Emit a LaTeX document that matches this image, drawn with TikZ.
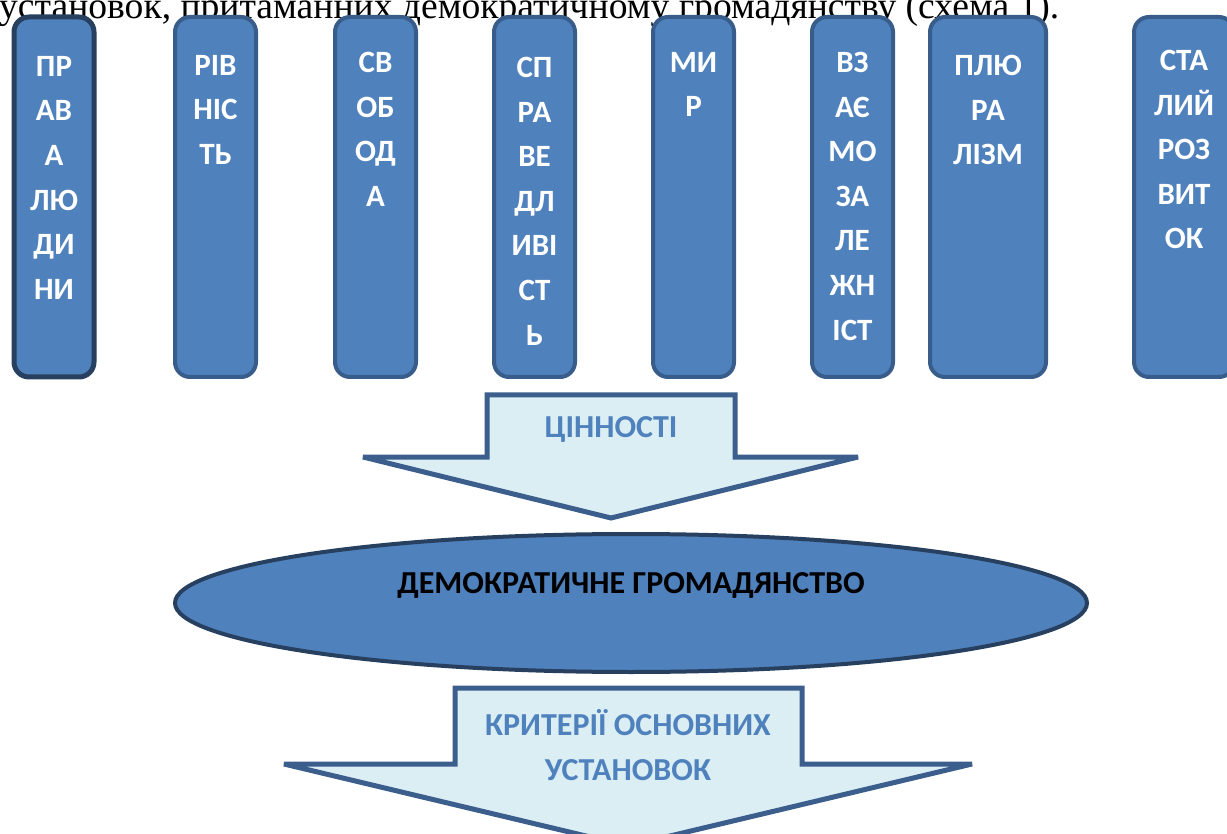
\documentclass[tikz,border=0pt]{standalone}
\usepackage{fontspec}
\usetikzlibrary{shapes.geometric}
\setmainfont{Liberation Serif}
\newfontfamily\calfont{Carlito}
\definecolor{boxfill}{HTML}{4F81BD}
\definecolor{boxline}{HTML}{385D8A}
\definecolor{darkline}{HTML}{27405F}
\definecolor{arrowfill}{HTML}{DBEEF4}
\definecolor{arrowline}{HTML}{3B5E8C}
\begin{document}
\begin{tikzpicture}[x=1pt,y=-1pt,
  vbox/.style={draw=boxline, line width=4pt, fill=boxfill, rounded corners=15pt},
  vtext/.style={anchor=north, inner sep=0pt, align=center, text=white,
    font=\calfont\bfseries\fontsize{31}{44.6}\selectfont},
  arrowshape/.style={draw=arrowline, fill=arrowfill, line width=5pt, line join=miter, miter limit=2},
  arrowtext/.style={inner sep=0pt, align=center, text=boxfill,
    font=\calfont\bfseries\fontsize{32}{45}\selectfont}]
\useasboundingbox (0,0) rectangle (1227,834);
\clip (0,0) rectangle (1227,834);
% title text (cut at top)
\node[anchor=base west, inner sep=0pt, font=\fontsize{37.6}{40}\selectfont] (title) at (-1,19)
  {установок, притаманних демократичному громадянству (схема 1).};
% value boxes
\draw[vbox, draw=darkline, line width=5pt] (14,17) rectangle (94,377);
\coordinate (b1) at (54,17);
\draw[vbox] (175,17) rectangle (256,377); \coordinate (b2) at (215.5,17);
\draw[vbox] (335,17) rectangle (416,377); \coordinate (b3) at (375.5,17);
\draw[vbox] (494,17) rectangle (575,377); \coordinate (b4) at (534.5,17);
\draw[vbox] (653,17) rectangle (734,377); \coordinate (b5) at (693.5,17);
\draw[vbox] (812,17) rectangle (893,377); \coordinate (b6) at (852.5,17);
\draw[vbox] (930,17) rectangle (1046,377); \coordinate (b7) at (988,17);
\draw[vbox] (1134,17) rectangle (1234,377); \coordinate (b8) at (1184,17);
\node[vtext] (t1) at ([yshift=-39]b1) {ПР\\АВ\\А\\ЛЮ\\ДИ\\НИ};
\node[vtext] (t2) at ([yshift=-38]b2) {РІВ\\НІС\\ТЬ};
\node[vtext] (t3) at ([yshift=-35]b3) {СВ\\ОБ\\ОД\\А};
\node[vtext] (t4) at ([yshift=-40]b4) {СП\\РА\\ВЕ\\ДЛ\\ИВІ\\СТ\\Ь};
\node[vtext] (t5) at ([yshift=-35]b5) {МИ\\Р};
\node[vtext] (t6) at ([yshift=-35]b6) {ВЗ\\АЄ\\МО\\ЗА\\ЛЕ\\ЖН\\ІСТ};
\node[vtext] (t7) at ([yshift=-38]b7) {ПЛЮ\\РА\\ЛІЗМ};
\node[vtext] (t8) at ([yshift=-33]b8) {СТА\\ЛИЙ\\РОЗ\\ВИТ\\ОК};
% arrow 1
\draw[arrowshape] (487,395) -- (735,395) -- (735,457) -- (858,457) -- (611,518)
  -- (363,457) -- (487,457) -- cycle;
\node[arrowtext] (a1) at (611,429) {ЦІННОСТІ};
% ellipse
\node[draw=darkline, line width=4pt, fill=boxfill, ellipse, minimum width=912pt,
  minimum height=138pt, inner sep=0pt] (dem) at (631,603) {};
\node[inner sep=0pt, font=\calfont\bfseries\fontsize{32}{34}\selectfont] (demt) at (631,585)
  {ДЕМОКРАТИЧНЕ ГРОМАДЯНСТВО};
% arrow 2
\draw[arrowshape] (455,688) -- (802,688) -- (802,764) -- (972,764) -- (628,846)
  -- (284,764) -- (455,764) -- cycle;
\node[arrowtext] (a2) at (628,745) {КРИТЕРІЇ ОСНОВНИХ\\УСТАНОВОК};
\end{tikzpicture}
\end{document}
